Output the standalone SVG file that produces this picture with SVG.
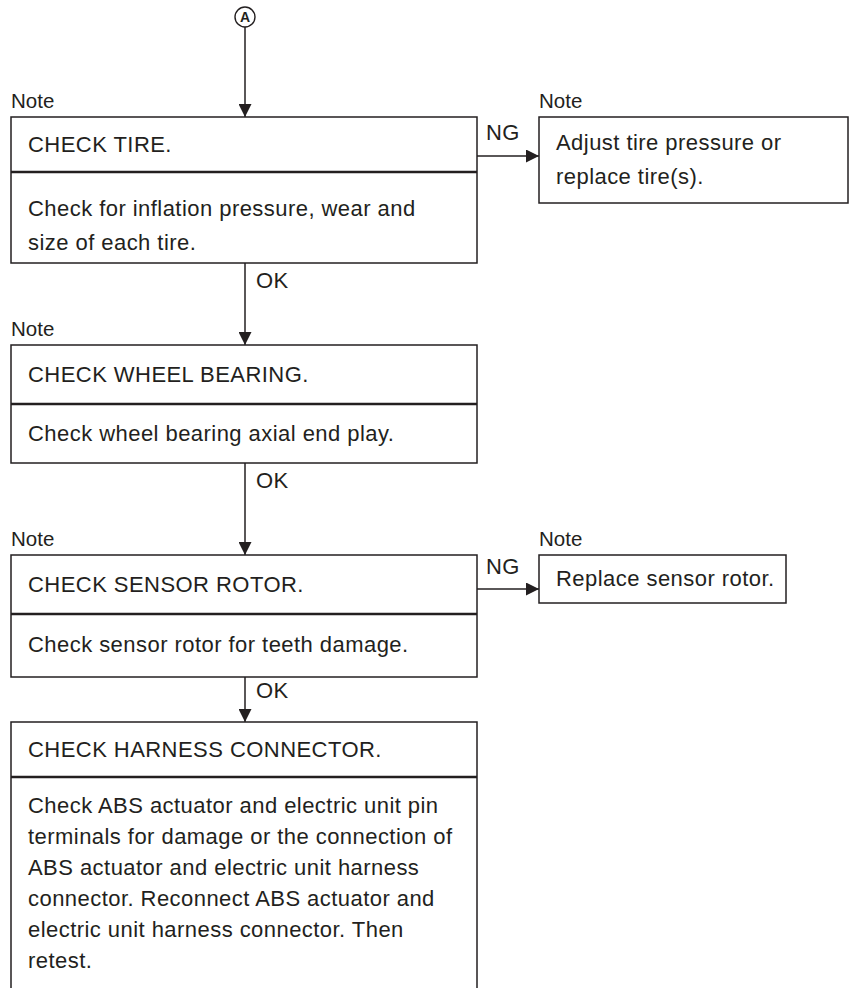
<svg xmlns="http://www.w3.org/2000/svg" width="850" height="988" viewBox="0 0 850 988">
<defs>
<marker id="ah" markerWidth="12" markerHeight="13" viewBox="0 0 12 13" refX="13" refY="6.5" orient="auto" markerUnits="userSpaceOnUse">
<path d="M0,0 L13,6.5 L0,13 Z" fill="#231f20"/>
</marker>
</defs>
<style>
text{font-family:"Liberation Sans",Arial,Helvetica,sans-serif;fill:#231f20}
.t{font-size:22px;letter-spacing:0.45px}
.n{font-size:20.5px}
.box{fill:#fff;stroke:#231f20;stroke-width:1.5}
.div{stroke:#231f20;stroke-width:2.5}
.ln{stroke:#231f20;stroke-width:1.5;fill:none}
</style>
<rect width="850" height="988" fill="#fff"/>
<g id="start">
<circle cx="245" cy="17" r="10" fill="none" stroke="#231f20" stroke-width="1.4"/>
<text x="245" y="22" text-anchor="middle" style="font-size:14px;font-weight:bold">A</text>
</g>
<g id="connectors">
<line class="ln" x1="245" y1="27" x2="245" y2="117" marker-end="url(#ah)"/>
<line class="ln" x1="477" y1="156" x2="539" y2="156" marker-end="url(#ah)"/>
<text class="t" x="486" y="140">NG</text>
<line class="ln" x1="245" y1="263" x2="245" y2="345" marker-end="url(#ah)"/>
<text class="t" x="256" y="288">OK</text>
<line class="ln" x1="245" y1="463" x2="245" y2="555" marker-end="url(#ah)"/>
<text class="t" x="256" y="488">OK</text>
<line class="ln" x1="477" y1="589" x2="539" y2="589" marker-end="url(#ah)"/>
<text class="t" x="486" y="574">NG</text>
<line class="ln" x1="245" y1="677" x2="245" y2="722" marker-end="url(#ah)"/>
<text class="t" x="256" y="698">OK</text>
</g>
<g id="check-tire">
<text class="n" x="11" y="108">Note</text>
<rect class="box" x="11" y="117" width="466" height="146"/>
<line class="div" x1="11" y1="172" x2="477" y2="172"/>
<text class="t" x="28" y="152">CHECK TIRE.</text>
<text class="t" x="28" y="216">Check for inflation pressure, wear and</text>
<text class="t" x="28" y="250">size of each tire.</text>
</g>
<g id="adjust-tire">
<text class="n" x="539" y="108">Note</text>
<rect class="box" x="539" y="117" width="309" height="86"/>
<text class="t" x="556" y="150">Adjust tire pressure or</text>
<text class="t" x="556" y="184">replace tire(s).</text>
</g>
<g id="check-wheel-bearing">
<text class="n" x="11" y="336">Note</text>
<rect class="box" x="11" y="345" width="466" height="118"/>
<line class="div" x1="11" y1="404" x2="477" y2="404"/>
<text class="t" x="28" y="382">CHECK WHEEL BEARING.</text>
<text class="t" x="28" y="441">Check wheel bearing axial end play.</text>
</g>
<g id="check-sensor-rotor">
<text class="n" x="11" y="546">Note</text>
<rect class="box" x="11" y="555" width="466" height="122"/>
<line class="div" x1="11" y1="614" x2="477" y2="614"/>
<text class="t" x="28" y="592">CHECK SENSOR ROTOR.</text>
<text class="t" x="28" y="652">Check sensor rotor for teeth damage.</text>
</g>
<g id="replace-sensor-rotor">
<text class="n" x="539" y="546">Note</text>
<rect class="box" x="539" y="555" width="247" height="48"/>
<text class="t" x="556" y="586">Replace sensor rotor.</text>
</g>
<g id="check-harness-connector">
<path class="ln" d="M11,990 V722 H477 V990"/>
<line class="div" x1="11" y1="777" x2="477" y2="777"/>
<text class="t" x="28" y="757">CHECK HARNESS CONNECTOR.</text>
<text class="t" x="28" y="813">Check ABS actuator and electric unit pin</text>
<text class="t" x="28" y="844">terminals for damage or the connection of</text>
<text class="t" x="28" y="875">ABS actuator and electric unit harness</text>
<text class="t" x="28" y="906">connector. Reconnect ABS actuator and</text>
<text class="t" x="28" y="937">electric unit harness connector. Then</text>
<text class="t" x="28" y="968">retest.</text>
</g>
</svg>
